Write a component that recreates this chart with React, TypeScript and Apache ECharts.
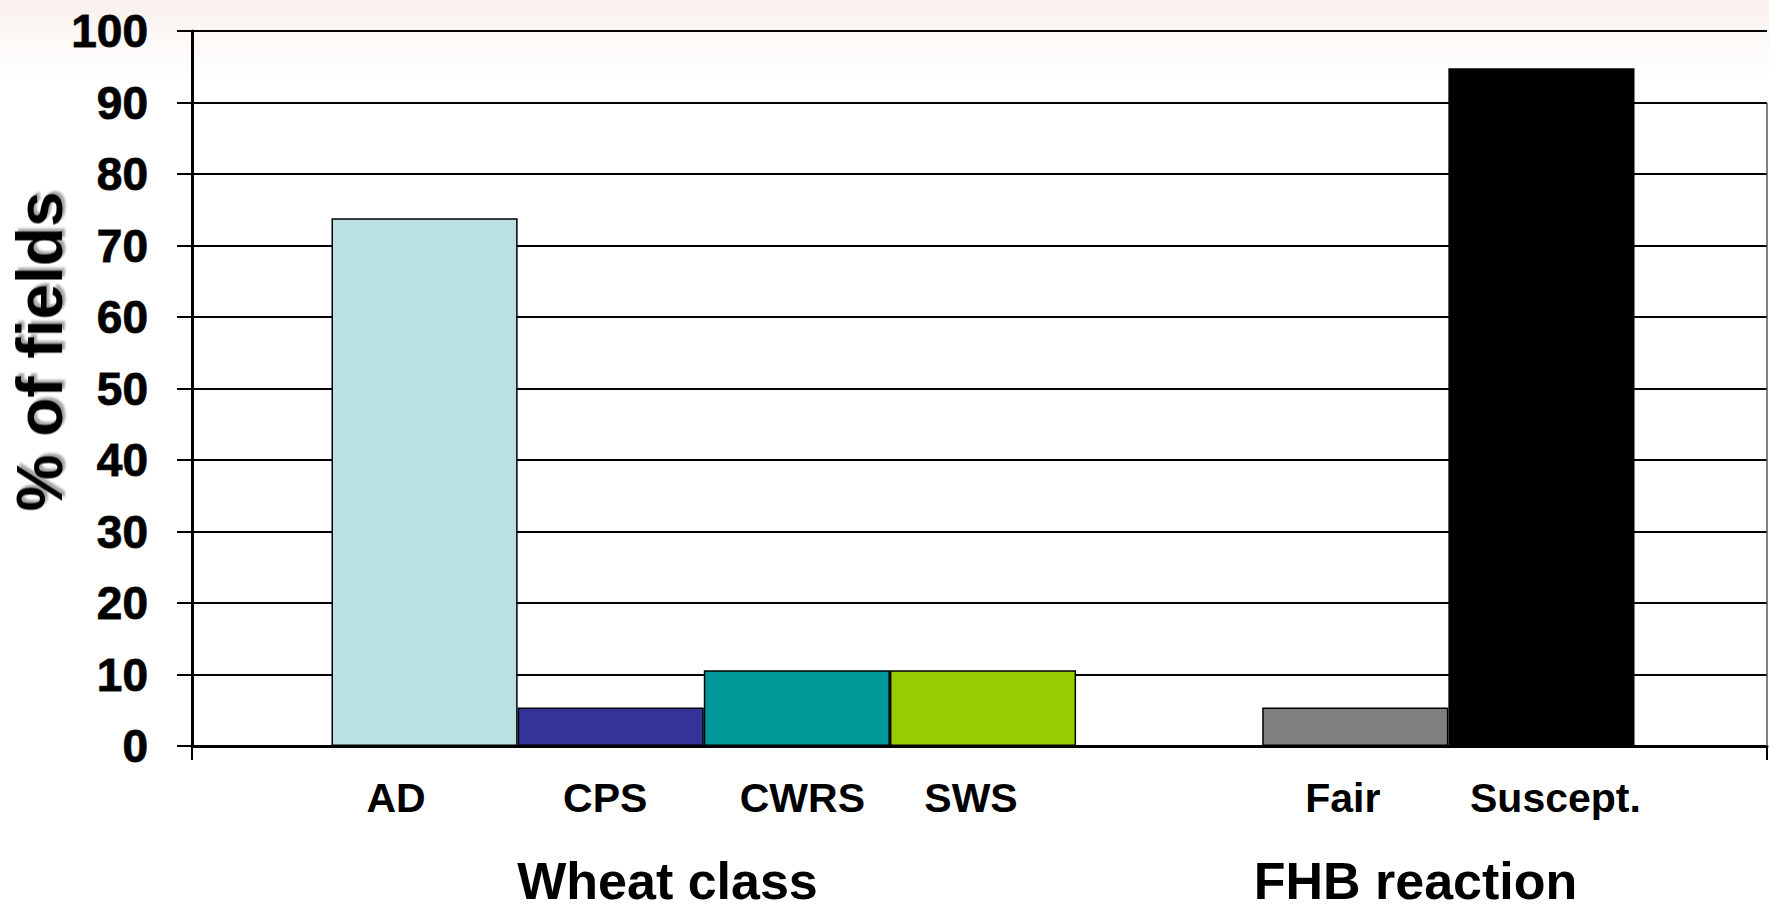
import React, { useEffect, useRef } from "react";
import * as echarts from "echarts";

// ---- data ----
const wheatClasses = ["AD", "CPS", "CWRS", "SWS"];
const wheatValues = [73.8, 5.4, 10.6, 10.6];
const fhbClasses = ["Fair", "Suscept."];
const fhbValues = [5.4, 94.8];
const yMin = 0;
const yMax = 100;
const yInterval = 10;
const groupTitles = ["Wheat class", "FHB reaction"];
const yAxisTitle = "% of fields";

// ---- styles ----
const wheatColors = ["#BAE0E2", "#333399", "#009999", "#99CC00"];
const fhbColors = ["#808080", "#000000"];
const FONT = "'Liberation Sans', Arial, Helvetica, sans-serif";
// horizontal nudge of each category label (px) relative to its bar centre
const labelShift: Record<string, number> = {
  AD: -28.5,
  CPS: -5.5,
  CWRS: 5.5,
  SWS: -12,
  Fair: -12.5,
  "Suscept.": 14,
};
const groupTitleX = [667.5, 1415.5];

export default function App() {
  const ref = useRef<HTMLDivElement>(null);

  useEffect(() => {
    if (!ref.current) return;
    const chart = echarts.init(ref.current, undefined, { renderer: "svg" });

    const categories = [...wheatClasses, "", ...fhbClasses];
    const colors = [...wheatColors, "transparent", ...fhbColors];
    const values: (number | null)[] = [...wheatValues, null, ...fhbValues];
    const data = values.map((v, i) => ({
      value: v,
      itemStyle: { color: colors[i] },
    }));

    const rich: Record<string, any> = {};
    categories.forEach((c, i) => {
      const s = labelShift[c] || 0;
      rich["c" + i] = {
        fontSize: 41,
        fontWeight: "bold",
        fontFamily: FONT,
        color: "#000",
        padding: s < 0 ? [0, -2 * s, 0, 0] : [0, 0, 0, 2 * s],
      };
    });

    chart.setOption({
      animation: false,
      backgroundColor: {
        type: "linear",
        x: 0,
        y: 0,
        x2: 0,
        y2: 1,
        colorStops: [
          { offset: 0, color: "#f8f0ec" },
          { offset: 0.04, color: "#fcf8f5" },
          { offset: 0.09, color: "#ffffff" },
          { offset: 1, color: "#ffffff" },
        ],
      },
      grid: [
        { left: 192, right: 2, top: 31, bottom: 165 },
        { left: 331.5, right: 134.5, top: 31, bottom: 165 },
      ],
      xAxis: [
        {
          gridIndex: 0,
          type: "category",
          data: [""],
          boundaryGap: true,
          axisLine: { show: true, lineStyle: { color: "#000", width: 3 } },
          axisTick: { show: true, length: 14, lineStyle: { color: "#000", width: 2 } },
          axisLabel: { show: false },
          splitLine: { show: false },
          z: 5,
        },
        {
          gridIndex: 1,
          type: "category",
          data: categories,
          axisLine: { show: false },
          axisTick: { show: false },
          splitLine: { show: false },
          axisLabel: {
            interval: 0,
            margin: 31,
            formatter: (v: string) => {
              const i = categories.indexOf(v);
              return v ? `{c${i}|${v}}` : "";
            },
            rich,
          },
        },
      ],
      yAxis: [
        {
          gridIndex: 0,
          type: "value",
          min: yMin,
          max: yMax,
          interval: yInterval,
          axisLine: { show: true, lineStyle: { color: "#000", width: 3 } },
          axisTick: { show: true, length: 15, lineStyle: { color: "#000", width: 2 } },
          axisLabel: {
            margin: 44,
            fontSize: 46,
            fontWeight: "bold",
            fontFamily: FONT,
            color: "#000",
            textBorderColor: "#333",
            textBorderWidth: 1,
          },
          splitLine: { show: true, lineStyle: { color: "#000", width: 2 } },
        },
        {
          gridIndex: 1,
          type: "value",
          min: yMin,
          max: yMax,
          show: false,
        },
      ],
      series: [
        {
          type: "bar",
          xAxisIndex: 1,
          yAxisIndex: 1,
          data,
          barWidth: "100%",
          barGap: "0%",
          itemStyle: { borderColor: "#000", borderWidth: 1.5 },
        },
      ],
      graphic: [
        {
          type: "line",
          shape: { x1: 1767, y1: 103, x2: 1767, y2: 746 },
          style: { stroke: "#555", lineWidth: 1.5 },
          z: 10,
        },
        {
          type: "text",
          x: 40,
          y: 351.5,
          rotation: Math.PI / 2,
          style: {
            text: yAxisTitle,
            fontSize: 64,
            fontWeight: "bold",
            fontFamily: FONT,
            fill: "#000",
            align: "center",
            verticalAlign: "middle",
            textShadowColor: "rgba(0,0,0,0.35)",
            textShadowOffsetX: 3,
            textShadowOffsetY: 3,
            textShadowBlur: 2,
          },
        },
        ...groupTitles.map((t, i) => ({
          type: "text",
          x: groupTitleX[i],
          y: 881,
          style: {
            text: t,
            fontSize: 52,
            fontWeight: "bold",
            fontFamily: FONT,
            fill: "#000",
            align: "center",
            verticalAlign: "middle",
          },
        })),
      ],
    });

    return () => chart.dispose();
  }, []);

  return (
    <div
      ref={ref}
      style={{ position: "absolute", left: 0, top: 0, width: 1769, height: 911 }}
    />
  );
}
